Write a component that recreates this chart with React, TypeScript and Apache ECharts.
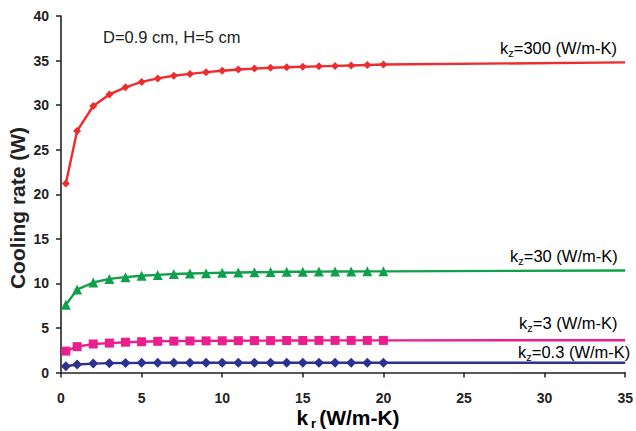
import React, { useEffect, useRef } from "react";
import * as echarts from "echarts";

const krValues = [0.3, 1, 2, 3, 4, 5, 6, 7, 8, 9, 10, 11, 12, 13, 14, 15, 16, 17, 18, 19, 20];
const krEnd = 35;

const kz300 = [21.2, 27.1, 29.9, 31.2, 32.0, 32.6, 33.0, 33.3, 33.5, 33.7, 33.85, 34.0, 34.1, 34.2, 34.25, 34.3, 34.35, 34.4, 34.45, 34.5, 34.55];
const kz300End = 34.8;
const kz30 = [7.6, 9.3, 10.1, 10.5, 10.7, 10.85, 10.95, 11.05, 11.1, 11.15, 11.2, 11.22, 11.25, 11.27, 11.3, 11.3, 11.32, 11.33, 11.34, 11.35, 11.35];
const kz30End = 11.45;
const kz3 = [2.4, 2.9, 3.2, 3.3, 3.4, 3.45, 3.5, 3.52, 3.54, 3.55, 3.56, 3.57, 3.58, 3.58, 3.59, 3.59, 3.6, 3.6, 3.6, 3.6, 3.6];
const kz3End = 3.62;
const kz03 = [0.7, 0.9, 1.0, 1.05, 1.07, 1.08, 1.09, 1.1, 1.1, 1.1, 1.1, 1.1, 1.1, 1.1, 1.1, 1.1, 1.1, 1.1, 1.1, 1.1, 1.1];
const kz03End = 1.1;

const xTicks = [0, 5, 10, 15, 20, 25, 30, 35];
const yTicks = [0, 5, 10, 15, 20, 25, 30, 35, 40];

const FONT = "Liberation Sans, Arial, sans-serif";

function build(vals: number[], end: number) {
  const d: any[] = krValues.map((x, i) => [x, vals[i]]);
  d.push({ value: [krEnd, end], symbol: "none" });
  return d;
}

export default function App() {
  const ref = useRef<HTMLDivElement>(null);
  useEffect(() => {
    const chart = echarts.init(ref.current!, null, { renderer: "svg" });
    const mkSeries = (name: string, vals: number[], end: number, color: string, symbol: string, size: number) => ({
      name,
      type: "line",
      data: build(vals, end),
      symbol,
      symbolSize: size,
      showSymbol: true,
      lineStyle: { color, width: 2.4 },
      itemStyle: { color, borderWidth: 0 },
      z: 3,
    });
    const subRich = (size: number) => ({
      a: { fontSize: size, fontFamily: FONT, color: "#222", verticalAlign: "middle", lineHeight: 21 },
      s: { fontSize: Math.round(size * 0.68), fontFamily: FONT, color: "#222", verticalAlign: "bottom", lineHeight: 21 },
    });
    const kzLabel = (val: string, x: number, y: number) => ({
      type: "text",
      x,
      y,
      style: {
        text: `{a|k}{s|z}{a|=${val} (W/m-K)}`,
        rich: subRich(16.5),
        textAlign: "left",
        textVerticalAlign: "middle",
      },
    });
    chart.setOption({
      animation: false,
      backgroundColor: "#fff",
      grid: { left: 61, right: 8, top: 16, bottom: 58.5 },
      xAxis: {
        type: "value",
        min: 0,
        max: 35,
        interval: 5,
        axisLine: { show: true, lineStyle: { color: "#222", width: 1.6 } },
        axisTick: { show: true, length: 5, lineStyle: { color: "#222", width: 1.5 } },
        splitLine: { show: false },
        axisLabel: {
          margin: 18,
          fontSize: 14,
          fontWeight: "bold",
          fontFamily: FONT,
          color: "#222",
          formatter: (v: number) => (xTicks.includes(v) ? String(v) : ""),
        },
      },
      yAxis: {
        type: "value",
        min: 0,
        max: 40,
        interval: 5,
        axisLine: { show: true, lineStyle: { color: "#222", width: 1.6 } },
        axisTick: { show: true, length: 5, lineStyle: { color: "#222", width: 1.5 } },
        splitLine: { show: false },
        axisLabel: {
          margin: 12,
          fontSize: 14,
          fontWeight: "bold",
          fontFamily: FONT,
          color: "#222",
          formatter: (v: number) => (yTicks.includes(v) ? String(v) : ""),
        },
      },
      series: [
        mkSeries("kz=300", kz300, kz300End, "#ee2b2e", "diamond", 8),
        mkSeries("kz=30", kz30, kz30End, "#10a04c", "triangle", 10),
        mkSeries("kz=3", kz3, kz3End, "#ea1e8d", "rect", 9),
        mkSeries("kz=0.3", kz03, kz03End, "#2e3192", "diamond", 10),
      ],
      graphic: [
        {
          type: "text",
          x: 103,
          y: 37,
          style: { text: "D=0.9 cm, H=5 cm", fontSize: 16.5, fontFamily: FONT, fill: "#222", textVerticalAlign: "middle" },
        },
        kzLabel("300", 500, 48),
        kzLabel("30", 510, 256),
        kzLabel("3", 519, 323),
        kzLabel("0.3", 518, 352),
        {
          type: "text",
          x: 17,
          y: 208,
          rotation: Math.PI / 2,
          style: {
            text: "Cooling rate (W)",
            fontSize: 21,
            fontWeight: "bold",
            fontFamily: FONT,
            fill: "#222",
            textAlign: "center",
            textVerticalAlign: "middle",
          },
        },
        {
          type: "text",
          x: 348,
          y: 417,
          style: {
            text: "{a|k}{s|r}{a|(W/m-K)}",
            rich: {
              a: { fontSize: 21, fontWeight: "bold", fontFamily: FONT, color: "#222", verticalAlign: "middle", lineHeight: 26 },
              s: { fontSize: 13, fontWeight: "bold", fontFamily: FONT, color: "#222", verticalAlign: "bottom", lineHeight: 26, padding: [0, 3, 0, 3] },
            },
            textAlign: "center",
            textVerticalAlign: "middle",
          },
        },
      ],
    });
    return () => chart.dispose();
  }, []);
  return <div ref={ref} style={{ width: 636, height: 431, position: "absolute", left: 0, top: 0 }} />;
}
